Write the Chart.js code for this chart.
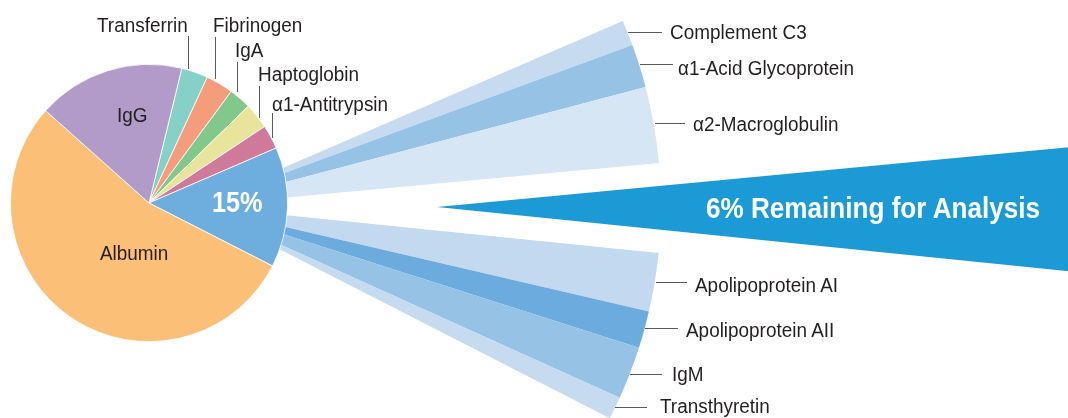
<!DOCTYPE html>
<html lang="en">

<head>
    <meta charset="UTF-8">
    <title>Plasma proteins</title>
    <script src="https://cdn.jsdelivr.net/npm/chart.js@4/dist/chart.umd.min.js"></script>
</head>

<body>
    <div id="stage">
        <canvas id="fanCanvas" width="932" height="932"></canvas>
        <canvas id="restCanvas" width="1280" height="1280"></canvas>
        <canvas id="pieCanvas" width="278" height="278"></canvas>
        <div id="labels"></div>
    </div>
</body>
<style>
    * {
        margin: 0;
        padding: 0;
    }

    body {
        background: #fff;
    }

    #stage {
        position: relative;
        width: 1068px;
        height: 418px;
        overflow: hidden;
    }

    canvas {
        position: absolute;
    }

    /* fan centre (195,206) r 466 */
    #fanCanvas {
        left: -271px;
        top: -260px;
        z-index: 1;
    }

    /* wedge tip at (437,207) */
    #restCanvas {
        left: -203px;
        top: -433px;
        z-index: 2;
    }

    /* pie centre (149,203) */
    #pieCanvas {
        left: 10px;
        top: 64px;
        z-index: 3;
    }

    #labels {
        position: absolute;
        left: 0;
        top: 0;
        width: 1068px;
        height: 418px;
        z-index: 4;
    }

    .lbl {
        position: absolute;
        white-space: nowrap;
        font-family: "Liberation Sans", Arial, sans-serif;
        font-size: 19.5px;
        line-height: 20px;
        color: #231f20;
        transform-origin: 0 50%;
        transform: scaleX(0.97);
    }

    .big {
        font-weight: bold;
        color: #fff;
        transform: scaleX(0.87);
    }

    .lead {
        position: absolute;
        background: #5a5a5a;
    }
</style>

<script>
    // main pie, percent of plasma protein
    const pieLabels = ["Transferrin", "Fibrinogen", "IgA", "Haptoglobin", "α1-Antitrypsin", "Other", "Albumin", "IgG"]
    const pieValues = [3.1, 3.2, 2.6, 3.0, 2.8, 14.0, 54.1, 17.2]
    const pieColors = ["#86d1c7", "#f59c7c", "#83c88b", "#e9e49b", "#d07a9b", "#6eaedf", "#fbbf77", "#b39bc9"]

    // fan of the 15% slice, in degrees (gap marks the empty wedge)
    const fanLabels = ["Complement C3", "α1-Acid Glycoprotein", "α2-Macroglobulin", "", "Apolipoprotein AI", "Apolipoprotein AII", "IgM", "Transthyretin"]
    const fanValues = [3.2, 5.4, 9.5, 11.1, 7.3, 4.6, 6.6, 2.8]
    const fanColors = ["#c6dbf0", "#96c2e6", "#d6e6f5", "rgba(0,0,0,0)", "#c2d9ef", "#6cabde", "#96c2e6", "#c6dbf0"]

    // the "6% remaining" wedge, degrees
    const restValues = [11.2]

    const clear = "rgba(0,0,0,0)"

    function baseOptions(rotation) {
        return {
            responsive: false,
            maintainAspectRatio: false,
            devicePixelRatio: 1,
            animation: false,
            rotation: rotation,
            events: [],
            layout: { padding: 0 },
            plugins: {
                legend: { display: false },
                tooltip: { enabled: false }
            }
        }
    }

    function sum(arr) {
        return arr.reduce((a, b) => a + b, 0)
    }

    // fan: fill the rest of the circle with nothing so the centre stays put
    new Chart(document.getElementById("fanCanvas"), {
        type: "pie",
        data: {
            labels: fanLabels.concat([""]),
            datasets: [{
                data: fanValues.concat([360 - sum(fanValues)]),
                backgroundColor: fanColors.concat([clear]),
                borderWidth: 0
            }]
        },
        options: baseOptions(66.6)
    })

    new Chart(document.getElementById("restCanvas"), {
        type: "pie",
        data: {
            labels: ["6% Remaining for Analysis", ""],
            datasets: [{
                data: restValues.concat([360 - sum(restValues)]),
                backgroundColor: ["#1b9ad6", clear],
                borderWidth: 0
            }]
        },
        options: baseOptions(84.6)
    })

    new Chart(document.getElementById("pieCanvas"), {
        type: "pie",
        data: {
            labels: pieLabels,
            datasets: [{
                data: pieValues,
                backgroundColor: pieColors,
                borderColor: "#ffffff",
                borderWidth: 0.8
            }]
        },
        options: baseOptions(13.7)
    })

    // text labels: [text, left, top, extra class, font size]
    const textItems = [
        ["Transferrin", 97, 15],
        ["Fibrinogen", 213, 15],
        ["IgA", 235, 39.5],
        ["Haptoglobin", 258, 64],
        ["α1-Antitrypsin", 272, 93.5],
        ["IgG", 117, 105],
        ["Albumin", 100, 243],
        ["15%", 212, 188, "big", 29],
        ["Complement C3", 670, 22],
        ["α1-Acid Glycoprotein", 678, 57.5],
        ["α2-Macroglobulin", 693, 114],
        ["Apolipoprotein AI", 695, 274.5],
        ["Apolipoprotein AII", 686, 319.5],
        ["IgM", 672, 364],
        ["Transthyretin", 660, 395.5],
        ["6% Remaining for Analysis", 706, 193.4, "big", 30]
    ]

    // leader lines: [x1, y1, x2, y2]
    const leaders = [
        [188, 36, 188, 69],
        [215, 37, 215, 79],
        [237, 62, 237, 92],
        [259, 86, 259, 118],
        [272, 113, 272, 138],
        [628, 32, 662, 32],
        [640, 64, 673, 64],
        [655, 123, 685, 123],
        [656, 282, 687, 282],
        [645, 328, 678, 328],
        [630, 374, 662, 374],
        [615, 407, 647, 407]
    ]

    const labelBox = document.getElementById("labels")
    textItems.forEach(function (t) {
        let d = document.createElement("div")
        d.className = "lbl" + (t[3] ? " " + t[3] : "")
        d.textContent = t[0]
        d.style.left = t[1] + "px"
        d.style.top = t[2] + "px"
        if (t[4]) {
            d.style.fontSize = t[4] + "px"
            d.style.lineHeight = t[4] + "px"
        }
        labelBox.appendChild(d)
    })
    leaders.forEach(function (l) {
        let d = document.createElement("div")
        d.className = "lead"
        d.style.left = l[0] + "px"
        d.style.top = l[1] + "px"
        d.style.width = Math.max(l[2] - l[0], 1) + "px"
        d.style.height = Math.max(l[3] - l[1], 1) + "px"
        labelBox.appendChild(d)
    })
</script>

</html>
